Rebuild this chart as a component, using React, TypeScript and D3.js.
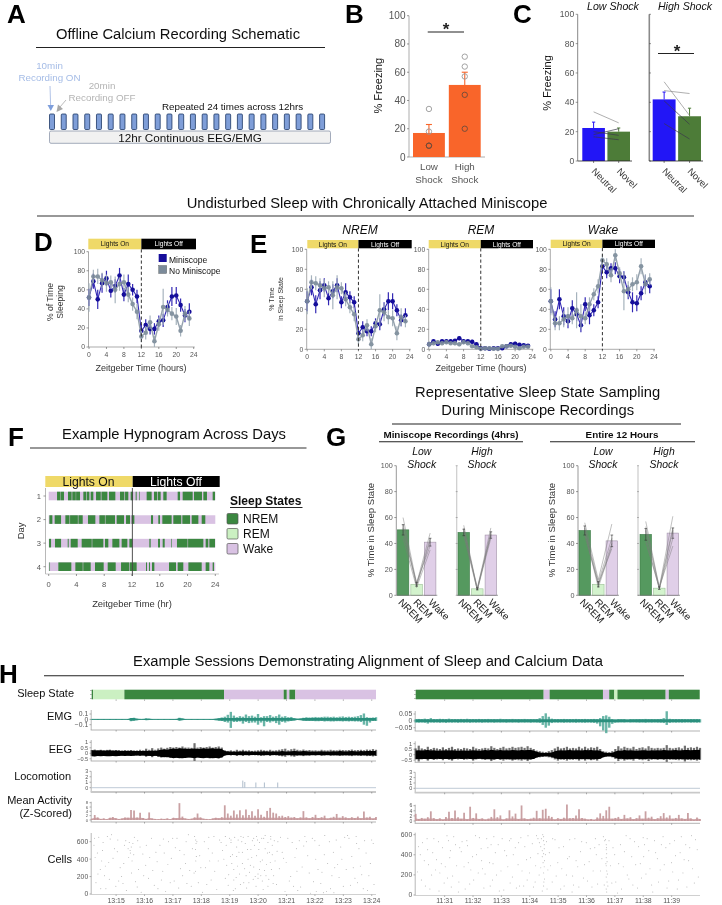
import React from "react";
import * as d3 from "d3";

const FONT = "'Liberation Sans', Arial, sans-serif";

// Panel B
const shockLabels = [["Low", "Shock"], ["High", "Shock"]];
const freezeMeans = [17, 51];
const freezeTops = [23, 60];
const freezeDots = [[34, 18, 8, 8], [71, 64, 57, 44, 20]];

// Panel C
const contextLabels = ["Neutral", "Novel"];
const lowContextMeans = [22.5, 20];
const lowContextTops = [26.5, 22.5];
const highContextMeans = [42, 30.5];
const highContextTops = [47, 36];
const lowPairs = [[33.5, 26], [18, 22], [20, 17.5], [16.5, 14.5]];
const highPairs = [[54, 31], [48, 46], [41, 25], [25.5, 15]];

// Panel D
const sleepMini = [52, 69, 50, 67, 72, 59, 64, 75, 55, 66, 60, 53, 17, 23, 19, 19, 27, 28, 42, 53, 54, 44, 33, 37];
const sleepMiniErr = [9, 8, 10, 10, 8, 7, 7, 8, 7, 10, 6, 7, 7, 6, 6, 6, 6, 7, 7, 10, 9, 7, 7, 9];
const sleepNo = [52, 74, 74, 70, 67, 68, 60, 66, 68, 55, 45, 37, 11, 15, 26, 6, 24, 42, 39, 35, 32, 17, 35, 30];
const sleepNoErr = [15, 7, 8, 8, 9, 7, 14, 7, 8, 8, 7, 8, 6, 7, 7, 6, 7, 19, 7, 7, 9, 6, 8, 8];

// Panel E
const nremMini = [48, 62, 45, 59, 64, 51, 58, 64, 47, 57, 52, 47, 16, 22, 18, 18, 26, 25, 40, 48, 48, 39, 29, 34];
const nremMiniErr = [10, 8, 9, 9, 7, 7, 7, 7, 6, 9, 6, 6, 6, 6, 5, 5, 5, 6, 7, 9, 8, 6, 6, 7];
const nremNo = [48, 67, 66, 64, 61, 62, 54, 62, 61, 50, 42, 35, 10, 14, 24, 5, 23, 39, 37, 32, 31, 16, 32, 28];
const nremNoErr = [13, 7, 7, 7, 9, 6, 14, 12, 6, 7, 6, 7, 5, 6, 6, 6, 6, 16, 9, 7, 8, 7, 9, 6];
const remMini = [5, 8, 5.5, 8, 8, 8, 8.5, 11, 8, 8, 7.5, 5, 1, 1, 0.5, 1, 1, 1, 3, 5, 5.5, 4.5, 4, 3.5];
const remMiniErr = [2, 2, 2, 2, 1.5, 2, 1.5, 2, 2, 1.5, 2, 2, 1, 1, 1, 1, 1, 1, 1.5, 2, 2, 1.5, 1.5, 1.5];
const remNo = [5, 6, 7, 6, 7, 6, 6, 5, 7, 6, 3, 2, 0.5, 1, 1, 0.5, 0.5, 3, 3, 3.5, 2.5, 1, 2.5, 2.5];
const remNoErr = [3, 2, 2, 2, 2, 1.5, 2, 2, 2, 2, 1.5, 1.5, 0.5, 1, 1, 0.5, 0.5, 1.5, 1.5, 1.5, 1.5, 1, 1, 1];
const wakeMini = [48, 30, 50, 33, 28, 41, 35, 24, 45, 34, 39, 47, 83, 77, 81, 81, 73, 72, 57, 47, 46, 56, 67, 63];
const wakeMiniErr = [12, 8, 10, 9, 7, 8, 7, 7, 7, 9, 6, 6, 7, 6, 5, 6, 7, 6, 7, 10, 8, 7, 7, 7];
const wakeNo = [48, 26, 26, 30, 33, 31, 39, 33, 31, 45, 55, 63, 89, 85, 74, 94, 76, 58, 60, 65, 67, 83, 65, 70];
const wakeNoErr = [14, 7, 7, 8, 9, 6, 18, 12, 6, 7, 6, 7, 6, 6, 7, 6, 6, 19, 8, 7, 8, 8, 10, 6];
const zeitTicks = [0, 4, 8, 12, 16, 20, 24];
const pctTicks = [0, 20, 40, 60, 80, 100];

// Panel F: NREM bouts in hours, per day
const hypnoDays = [1, 2, 3, 4];
const hypnoNrem = [
  [[1.2, 1.7], [1.75, 2.2], [2.78, 3.3], [3.4, 3.9], [3.95, 4.51], [4.99, 5.4], [5.48, 5.86], [6.05, 6.43], [6.82, 7.5], [7.6, 8.45], [8.69, 9.6], [10.27, 10.9], [11, 11.47], [11.81, 12.15], [12.53, 12.67], [13.06, 13.15], [14.11, 14.83], [15.17, 15.6], [15.7, 16.13], [16.51, 16.99], [18.58, 18.92], [19.3, 20.74], [20.93, 22.08], [22.28, 22.8], [23.62, 23.96]],
  [[0.1, 0.53], [0.86, 1.78], [2.4, 3], [3.08, 4.2], [4.28, 4.9], [5.66, 6.72], [7.3, 8.1], [8.18, 9.55], [9.79, 10.85], [11.14, 11.71], [11.95, 12.34], [14.74, 15.03], [15.79, 16.03], [16.37, 17.71], [17.95, 19.1], [19.25, 20.36], [20.6, 21.56], [22.04, 22.56]],
  [[0.05, 0.34], [0.91, 1.78], [2.74, 2.88], [3.17, 4.18], [4.75, 6.2], [6.28, 7.87], [8.11, 8.59], [9.17, 10.18], [10.51, 11.33], [11.62, 12.05], [14.5, 14.69], [15.75, 16.03], [16.42, 16.71], [17.67, 17.76], [18.48, 20], [20.08, 22.28], [22.61, 22.99], [23.14, 23.96]],
  [[0.1, 0.19], [1.39, 3.26], [3.84, 4.9], [4.98, 6.05], [6.67, 7.92], [8.5, 9.65], [10.42, 11.6], [11.68, 12.67], [14.02, 14.16], [14.45, 14.59], [14.88, 15.22], [17.33, 18.34], [18.58, 19.39], [20.12, 22.04], [22.61, 23.14], [23.62, 23.81]],
];
const stateNames = ["NREM", "REM", "Wake"];

// Panel G
const gMeans = [[50.5, 8.5, 41], [48.5, 5, 46.5], [50, 8.5, 42], [47, 5.5, 48]];
const gErrs = [[4, 1.5, 3], [2.5, 0.8, 2.5], [3.5, 2, 4.5], [4.5, 1, 4]];
const gPairs = [
  [[60, 9, 48], [55, 8, 44], [52, 7, 42], [48, 10, 38], [44, 6, 35]],
  [[54, 5, 52], [52, 4, 49], [50, 4, 47], [48, 6, 46], [46, 4, 44]],
  [[56, 12, 55], [52, 10, 44], [50, 8, 40], [49, 6, 38], [46, 9, 36]],
  [[57, 6, 61], [53, 6, 52], [50, 5, 50], [44, 5, 44], [41, 6, 38]],
];

// Panel H sleep state segments: state, start minute, end minute
const stateLeft: [number, number, number][] = [[0, 14.14, 14.19], [1, 14.19, 15.29], [0, 15.29, 18.8], [2, 18.8, 20.9], [0, 20.9, 21.01], [2, 21.01, 21.1], [0, 21.1, 21.31], [2, 21.31, 24.15]];
const stateRight: [number, number, number][] = [[0, 29.98, 34.49], [2, 34.49, 34.7], [0, 34.7, 36.58], [2, 36.58, 36.8], [0, 36.8, 36.98], [1, 36.98, 37.09], [0, 37.09, 38.79], [2, 38.79, 38.9], [0, 38.9, 39.99]];
const minutesLeft = [15, 16, 17, 18, 19, 20, 21, 22, 23, 24];
const minutesRight = [31, 32, 33, 34, 35, 36, 37, 38, 39];

const emgLeftUp = [.006, .005, .006, .005, .006, .005, .006, .005, .006, .005, .006, .005, .007, .024, .03, .012, .008, .008, .016, .012, .006, .005, .006, .005, .006, .005, .006, .006, .008, .03, .016, .006, .005, .006, .005, .006, .005, .006, .005, .006, .006, .01, .02, .035, .05, .085, .14, .07, .04, .06, .05, .09, .06, .07, .05, .1, .04, .06, .06, .08, .05, .06, .09, .05, .06, .04, .045, .02, .012, .015, .03, .04, .035, .04, .045, .04, .045, .05, .05, .045, .05, .04, .05, .055, .045, .05, .045, .05, .06, .08, .11, .04, .03, .035, .04];
const emgLeftDown = [.006, .005, .006, .005, .006, .005, .006, .005, .006, .005, .006, .005, .012, .035, .02, .02, .008, .006, .01, .008, .006, .005, .006, .005, .006, .005, .006, .006, .008, .015, .012, .006, .005, .006, .005, .006, .005, .006, .005, .006, .006, .02, .025, .03, .05, .06, .16, .05, .05, .04, .08, .05, .07, .06, .06, .1, .06, .13, .05, .06, .04, .07, .1, .05, .06, .04, .03, .02, .01, .012, .02, .03, .03, .03, .035, .035, .03, .04, .035, .04, .04, .035, .035, .04, .035, .04, .035, .04, .04, .05, .1, .12, .06, .03, .03];
const emgRightUp = [.012, .014, .012, .016, .013, .02, .013, .012, .015, .014, .012, .016, .012, .013, .012, .014, .012, .015, .012, .013, .012, .014, .012, .013, .014, .012, .013, .012, .015, .012, .013, .012, .014, .012, .013, .012, .014, .012, .013, .012, .013, .02, .035, .055, .03, .016, .012, .013, .012, .014, .012, .013, .012, .014, .012, .013, .014, .012, .013, .014, .012, .02, .035, .04, .03, .012, .01, .012, .011, .012, .01, .012, .011, .012, .013, .012, .014, .012, .013, .012, .013, .014, .02, .07, .015, .012, .013, .012, .013, .012, .011, .013, .012, .013, .012];
const emgRightDown = [.012, .013, .012, .014, .02, .012, .013, .012, .014, .012, .015, .012, .013, .012, .014, .012, .013, .012, .014, .012, .013, .012, .014, .012, .013, .012, .014, .012, .013, .012, .014, .012, .013, .012, .014, .012, .013, .012, .014, .012, .013, .015, .03, .05, .035, .016, .012, .013, .012, .014, .012, .013, .012, .014, .012, .013, .014, .012, .013, .015, .02, .04, .07, .09, .05, .022, .014, .012, .011, .012, .01, .012, .011, .012, .013, .012, .014, .012, .013, .012, .013, .014, .016, .03, .015, .012, .013, .012, .013, .012, .011, .013, .012, .013, .012];
const eegLeftCore = [.27, .28, .25, .27, .24, .26, .27, .24, .26, .24, .22, .24, .22, .24, .22, .2, .22, .2, .24, .22, .26, .22, .27, .33, .36, .33, .39, .44, .4, .46, .43, .42, .39, .41, .44, .39, .42, .45, .41, .43, .46, .42, .44, .38, .2, .16, .16, .15, .17, .16, .18, .16, .17, .16, .15, .16, .17, .18, .16, .17, .16, .16, .17, .2, .17, .16, .18, .21, .18, .17, .2, .18, .17, .16, .17, .16, .18, .17, .16, .17, .18, .17, .2, .18, .17, .18, .21, .18, .17, .2, .18, .21, .2, .21, .2];
const eegLeftPeak = [.3, .34, .28, .32, .29, .31, .33, .28, .3, .29, .26, .28, .27, .3, .26, .26, .32, .27, .42, .32, .47, .32, .44, .52, .42, .5, .57, .52, .57, .52, .62, .52, .52, .5, .92, .52, .57, .52, .57, .62, .52, .57, .62, .52, .27, .22, .27, .22, .32, .24, .32, .24, .27, .22, .24, .27, .32, .27, .24, .32, .24, .27, .32, .37, .42, .27, .37, .42, .32, .27, .34, .27, .3, .26, .27, .24, .32, .27, .26, .32, .28, .27, .32, .3, .28, .3, .34, .28, .3, .32, .28, .34, .32, .38, .32];
const eegRightCore = [.38, .41, .39, .4, .42, .38, .41, .37, .39, .38, .4, .39, .41, .38, .37, .39, .38, .36, .39, .41, .38, .37, .39, .42, .38, .44, .41, .38, .42, .39, .41, .38, .43, .41, .39, .42, .4, .43, .42, .38, .26, .19, .16, .15, .17, .2, .32, .38, .41, .38, .4, .42, .38, .4, .41, .38, .42, .4, .43, .38, .41, .36, .23, .16, .15, .18, .28, .38, .36, .42, .38, .41, .38, .36, .38, .4, .41, .36, .4, .38, .41, .38, .42, .4, .38, .41, .42, .38, .41, .43, .42, .41, .43, .42, .44];
const eegRightPeak = [.57, .82, .57, .52, .72, .52, .62, .57, .52, .67, .52, .62, .72, .52, .57, .52, .62, .57, .52, .72, .57, .52, .57, .62, .57, .77, .62, .52, .62, .72, .57, .62, .72, .62, .67, .72, .62, .77, .62, .52, .37, .32, .27, .24, .32, .42, .57, .72, .57, .62, .72, .57, .62, .57, .72, .57, .72, .57, .67, .62, .72, .52, .32, .27, .24, .32, .52, .77, .57, .72, .62, .57, .72, .52, .62, .67, .57, .77, .62, .57, .62, .57, .62, .87, .62, .57, .62, .67, .57, .82, .62, .67, .62, .72, .62];
const activityLeft = [.6, 2.3, 1.2, .5, .7, .4, 1, 1.4, .8, .5, .7, 1.2, 1, 4.6, 4.4, 1.2, 3.3, .9, .5, 3.5, .7, .5, .4, .6, .5, .7, .4, 1, .8, 7.8, 1.6, .7, .5, .6, 1.2, 3, 1.2, .6, .5, .4, .7, 1, .8, 1.3, 6.8, 3, 2, 4.4, 2.6, 4.5, 2.2, 4.8, 2.3, 4.1, 2, 5, 2.4, 1.5, 4.2, 5.6, 3.4, 3, 1.8, 2, 1.4, 1.8, 1.1, 1.4, .8, 1.2, 4.1, 1.2, .8, 1.4, 2.4, .9, 1.3, 2, .7, 1, 1.5, 2.8, 1, 1.8, 1.2, .8, 1.3, .9, 1.6, .8, 3.9, 1.1, 1.5, .7, 1.4];
const activityRight = [2.8, .8, 1.2, .9, 1.5, 3.8, 1.1, .7, 1, .6, 1.6, 3.6, 1.2, 4.1, 1.5, .9, 3.2, .7, 5.6, 1.2, 3, .8, 1, .6, .9, 1.6, 4.6, 1.5, 2.2, .6, 1, 4.2, 1.8, 2.9, .8, 6.1, 1, .7, .9, 1.3, 4, 1.1, 4.4, 4.8, 2, 1.6, .6, 1.1, .8, 1.3, 6.5, 1.1, 1.2, 2.2, 4.6, 1.2, .9, .6, .8, .5, 1.4, 3, 2, 4.2, 5.6, .9, 1.2, 1.6, .8, 2.4, 1, 1.5, .7, 1.1, 2.2, .9, 3.8, 1.3, 1.7, .7, 1.1, 1.9, 3.1, 1.4, 2.2, .9, 1.2, 2.4, 1, .8, 3.1, 1, .6, 1.4, .8];
const locoLeft: [number, number][] = [[19.46, 1.3], [19.53, 1.05], [19.92, .95], [20.22, .95], [20.69, .95]];

// Cell raster: percent of session, cell number
const cellsLeft = [
  [1, 640], [2, 470], [3, 280], [1.5, 130], [4, 590], [5, 60], [6, 360], [4.5, 210], [7, 680], [8, 520], [9, 485], [10, 300], [11, 120], [12, 610], [13, 420], [14, 240], [15, 650], [16, 80], [17, 540], [18, 460], [19, 330], [20, 180], [13.5, 500], [21, 640], [22, 100], [23, 370], [24, 560], [25, 260], [26, 30], [27, 600], [28, 410], [29, 150], [30, 640], [31, 500], [32, 210], [33, 350], [34, 680], [35, 90], [36, 240], [36.5, 260], [37, 600], [28.5, 640], [38, 440], [39, 20], [40, 300], [41, 520], [42, 160], [43, 660], [44, 50],
  [45, 620], [45.5, 590], [46, 500], [46.5, 400], [47, 180], [47, 660], [47.5, 330], [48, 100], [48.5, 640], [49, 620], [49, 590], [49.5, 450], [50, 280], [50, 160], [50.5, 60], [51, 540], [51, 430], [51.5, 620], [52, 230], [52.5, 660], [53, 480], [53, 350], [53.5, 130], [54, 580], [54.5, 70], [55, 400], [55, 660], [55.5, 250], [56, 510], [56.5, 610], [57, 310], [57, 640], [57.5, 200], [58, 660], [58, 440], [58.5, 230], [58.5, 180], [59, 590], [59, 280], [59.5, 210], [60, 150], [60, 390], [60.5, 640], [61, 520], [61, 670], [61.5, 340], [62, 90], [62, 590], [62.5, 480], [63, 660], [63, 630], [63.5, 560], [63.5, 450], [64, 210], [64.5, 380], [65, 110], [65.5, 600], [66, 290], [67, 480], [68, 30],
  [69, 640], [70, 200], [71, 90], [72, 520], [73, 610], [74, 310], [75, 660], [75.5, 600], [76, 440], [77, 10], [78, 140], [79, 30], [80, 560], [81, 250], [82, 670], [83, 350], [84, 60], [85, 480], [86, 620], [87, 190], [88, 400], [89, 650], [90, 670], [91, 100], [92, 300], [93, 660], [94, 520], [95, 220], [96, 610], [97, 40], [98, 350], [99, 580], [67.5, 410], [72.5, 40], [81.5, 15], [78.5, 610], [85.5, 300], [93.5, 130], [6.5, 630], [14.5, 580], [11.5, 560], [2.5, 650], [3.5, 380], [9.5, 150], [16.5, 280], [25.5, 470], [33.5, 120], [41.5, 380],
  [.8, 560], [1.2, 420], [2.2, 230], [3.2, 60], [3.8, 500], [4.8, 320], [5.5, 660], [6.2, 170], [7.5, 410], [8.5, 90], [9.2, 620], [10.5, 200], [11.3, 350], [12.2, 40], [12.8, 520], [13.2, 590], [13.6, 470], [13.9, 540], [14.2, 380], [14.8, 450], [15.4, 140], [16.2, 610], [17.4, 20], [18.3, 210], [19.2, 560], [20.4, 420], [21.5, 270], [22.6, 480], [23.3, 60], [24.5, 160], [25.2, 630], [26.8, 340], [27.6, 130], [29.4, 530], [30.6, 70], [31.2, 290], [32.5, 450], [33.2, 600], [34.5, 270], [35.4, 520], [36.2, 660], [36.6, 620], [36.7, 580], [36.5, 510], [36.8, 430], [36.6, 380], [37.5, 130], [38.4, 300], [39.6, 600], [40.5, 110], [41.2, 650], [42.4, 470], [43.3, 260], [44.5, 380],
  [47.3, 560], [48.2, 220], [48.8, 430], [49.3, 350], [49.8, 40], [50.3, 650], [50.8, 190], [51.3, 320], [51.8, 480], [52.3, 110], [52.8, 600], [53.3, 650], [53.8, 290], [54.3, 210], [54.8, 510], [55.3, 130], [55.8, 330], [56.3, 420], [56.8, 170], [57.3, 560], [57.8, 90], [58.3, 620], [58.8, 510], [59.3, 370], [59.8, 640], [60.3, 50], [60.8, 270], [61.3, 210], [61.8, 470], [62.3, 170], [62.8, 360], [63.2, 280], [63.8, 120], [64.2, 610], [65.2, 490], [66.4, 650], [68.4, 360], [69.5, 150], [70.5, 590], [71.5, 420], [72.2, 260], [73.5, 80], [74.6, 550], [76.5, 240], [77.6, 640], [78.8, 400], [79.6, 280], [80.6, 120], [81.8, 450], [82.6, 30], [83.6, 600], [84.5, 210], [85.2, 15], [86.5, 340], [87.6, 540], [88.5, 90], [89.5, 280], [90.5, 640], [91.5, 430], [92.6, 180], [93.2, 580], [94.5, 320], [95.5, 60], [96.5, 470], [97.5, 210], [98.5, 620], [99.3, 110],
];
const cellsRight = [
  [1, 480], [2, 150], [3, 340], [4, 560], [5, 60], [6, 420], [7, 250], [8, 530], [9, 310], [10, 120], [11, 590], [11.5, 540], [12, 370], [13, 190], [14, 500], [15, 30], [16, 430], [17, 280], [18, 540], [19, 110], [20, 380], [21, 590], [22, 220], [23, 460], [24, 70], [25, 560], [26, 320], [27, 150], [27.5, 580], [28, 420], [29, 500], [30, 240], [31, 50], [32, 390], [33, 540], [34, 180], [35, 470], [36, 300], [37, 570], [38, 90], [39, 350], [40, 220], [41, 510], [42, 130], [43, 410], [44, 270], [44.5, 40],
  [42.5, 590], [43, 560], [43.5, 520], [44, 480], [44.5, 440], [44.5, 380], [44.7, 600], [45, 580], [45, 540], [45.2, 500], [45.2, 460], [45, 410], [45.3, 340], [45.2, 280], [45, 220], [45.3, 160], [45, 90], [46, 530], [46.5, 250], [47, 420], [48, 130], [49, 550], [50, 320], [51, 60], [52, 480], [53, 200], [54, 380], [55, 30], [55.5, 100], [56, 560], [57, 280], [58, 430], [59, 170], [60, 520], [61, 330], [62, 80], [63, 470],
  [66, 580], [66.5, 540], [67, 500], [67, 450], [67.2, 410], [67, 370], [67.3, 330], [67, 290], [67.2, 240], [67, 180], [67.3, 130], [67, 60], [67.2, 30], [65, 240], [68, 540], [69, 120], [70, 400], [71, 20], [72, 500], [73, 280], [74, 590], [75, 160], [76, 380], [77, 530], [78, 70], [79, 310], [80, 570], [80.5, 500], [81, 210], [82, 440], [83, 100], [84, 540], [85, 360], [86, 250], [87, 580], [88, 470], [89, 140], [90, 320], [91, 540], [92, 60], [93, 420], [94, 220], [95, 500], [96, 340], [97, 590], [98, 120], [99, 450], [63.5, 400], [64, 110], [12.5, 80], [18.5, 320], [23.5, 260], [33.5, 560], [36.5, 90], [8.5, 220], [4.5, 300], [15.5, 470], [26.5, 500], [39.5, 590],
  [.6, 230], [1.6, 400], [2.4, 520], [3.4, 90], [4.2, 450], [5.6, 200], [6.4, 560], [7.3, 350], [8.2, 40], [9.4, 470], [10.4, 280], [11.2, 170], [12.2, 440], [13.4, 580], [14.4, 290], [15.2, 130], [16.3, 530], [17.4, 60], [18.2, 490], [19.4, 250], [20.4, 150], [21.4, 400], [22.4, 570], [23.2, 340], [24.4, 210], [25.4, 470], [26.2, 90], [27.2, 310], [28.4, 200], [29.4, 40], [30.4, 560], [31.3, 440], [32.4, 280], [33.2, 120], [34.3, 400], [35.4, 70], [36.2, 520], [37.4, 240], [38.4, 480], [39.2, 150], [40.4, 370], [41.4, 80], [42.2, 290], [43.4, 200], [44.2, 560], [44.8, 320], [45.6, 400], [45.1, 130], [46.2, 60], [47.4, 290], [48.2, 560], [49.4, 190], [50.4, 470], [51.4, 260], [52.2, 90], [53.4, 360], [54.2, 550], [55.2, 190], [56.4, 340], [57.4, 80], [58.4, 530], [59.4, 300], [60.4, 140], [61.4, 460], [62.4, 240], [63.2, 560], [64.5, 500], [65.5, 360], [66.3, 100], [66.8, 550], [67.1, 470], [67.4, 210], [66.9, 310], [67.6, 90], [68.5, 290], [69.4, 470], [70.4, 130], [71.4, 310], [72.4, 60], [73.4, 430], [74.4, 200], [75.4, 560], [76.4, 100], [77.4, 300], [78.4, 480], [79.4, 170], [80.2, 380], [81.4, 560], [82.4, 260], [83.4, 30], [84.4, 420], [85.4, 130], [86.4, 500], [87.4, 300], [88.4, 70], [89.4, 510], [90.4, 230], [91.4, 390], [92.4, 150], [93.4, 580], [94.4, 350], [95.4, 80], [96.4, 470], [97.4, 260], [98.4, 550], [99.4, 180],
];

const BLUE = "#12109a", GREY = "#7b8b9a", TICK = "#555", GR = "#a9a9a9";
const NREM = "#3b873f", REM = "#cbf0c2", WAKE = "#d9c2e3";
const stateColors = [NREM, REM, WAKE];
const LETTER = 26;

const T = ({ x, y, s, a = "middle", w, c = "#111", i, rot, ls, children }: any) => (
  <text x={x} y={y} fontSize={s} textAnchor={a} fontWeight={w} fill={c} fontStyle={i ? "italic" : undefined} letterSpacing={ls}
    transform={rot !== undefined ? `rotate(${rot} ${x} ${y})` : undefined}>{children}</text>
);
const Rule = ({ x1, x2, y, c = "#222", w = 1.1 }: any) => <line x1={x1} x2={x2} y1={y} y2={y} stroke={c} strokeWidth={w} />;

const YAxis = ({ x, scale, ticks, s = 10, c = GR, w = 1, tl = 2.5, lab = (d: number) => String(d), top, bot }: any) => (
  <g>
    <line x1={x} x2={x} y1={top ?? scale(d3.max(ticks) as number)} y2={bot ?? scale(d3.min(ticks) as number)} stroke={c} strokeWidth={w} />
    {ticks.map((t: number) => (
      <g key={t}>
        <line x1={x - tl} x2={x} y1={scale(t)} y2={scale(t)} stroke="#555" strokeWidth={0.6} />
        <T x={x - tl - 1.5} y={scale(t) + s * 0.35} s={s} a="end" c={TICK}>{lab(t)}</T>
      </g>
    ))}
  </g>
);

const Lights = ({ x0, x1, x2, y, h, s }: any) => (
  <g>
    <rect x={x0} y={y} width={x1 - x0} height={h} fill="#efd968" />
    <rect x={x1} y={y} width={x2 - x1} height={h} fill="#000" />
    <T x={(x0 + x1) / 2} y={y + h * 0.5 + s * 0.36} s={s}>Lights On</T>
    <T x={(x1 + x2) / 2} y={y + h * 0.5 + s * 0.36} s={s} c="#fff">Lights Off</T>
  </g>
);

const Circadian = ({ ax, x24, top, bot, series, barY, barH, barX0, barX2 }: any) => {
  const sx = d3.scaleLinear().domain([0, 24]).range([ax + 0.5, x24]);
  const sy = d3.scaleLinear().domain([0, 100]).range([bot, top]);
  const path = d3.line<number>().x((_, i) => sx(i)).y((d) => sy(d));
  const m12 = sx(12);
  return (
    <g>
      <Lights x0={barX0} x1={m12} x2={barX2} y={barY} h={barH} s={6.6} />
      <YAxis x={ax} scale={sy} ticks={pctTicks} s={6.8} tl={2} c="#aaa" />
      <line x1={ax} x2={x24 + 1} y1={bot} y2={bot} stroke="#888" strokeWidth={0.7} />
      {zeitTicks.map((t) => (
        <g key={t}>
          <line x1={sx(t)} x2={sx(t)} y1={bot} y2={bot + 2} stroke="#555" strokeWidth={0.6} />
          <T x={sx(t)} y={bot + 9.5} s={6.8} c={TICK}>{t}</T>
        </g>
      ))}
      {series.map((ser: any, si: number) => (
        <g key={si} opacity={si ? 0.92 : 1}>
          {ser.v.map((d: number, i: number) => (
            <line key={i} x1={sx(i)} x2={sx(i)} y1={sy(Math.max(0, d - ser.e[i]))} y2={sy(Math.min(100, d + ser.e[i]))} stroke={si ? "#9fadb8" : "#3328b4"} strokeWidth={1.2} />
          ))}
          <path d={path(ser.v) as string} fill="none" stroke={si ? "#8c9aa6" : "#3328b4"} strokeWidth={si ? 1.4 : 1.1} />
          {ser.v.map((d: number, i: number) => (
            <circle key={i} cx={sx(i)} cy={sy(d)} r={2.3} fill={si ? GREY : BLUE} />
          ))}
        </g>
      ))}
      <line x1={m12} x2={m12} y1={barY + barH} y2={bot + 1} stroke="#333" strokeWidth={1} strokeDasharray="3.2 2.4" />
    </g>
  );
};

const Schematic = () => {
  const pulses = d3.range(24);
  const px = d3.scaleLinear().domain([0, 23]).range([49.5, 319.6]);
  return (
    <g>
      <T x={7} y={23} s={LETTER} a="start" w="bold" c="#000">A</T>
      <T x={178} y={39} s={14.75}>Offline Calcium Recording Schematic</T>
      <Rule x1={36} x2={325} y={47.5} />
      <T x={49.5} y={68.5} s={9.8} c="#a5bce6">10min</T>
      <T x={49.5} y={80.5} s={9.8} c="#a5bce6">Recording ON</T>
      <line x1={50} x2={50.6} y1={86} y2={105} stroke="#8fa9dc" strokeWidth={0.7} />
      <path d="M47.5 105 L54 105 L50.8 111 Z" fill="#7f9fdc" />
      <T x={102} y={89} s={9.8} c="#b4b4b4">20min</T>
      <T x={102} y={100.5} s={9.8} c="#b4b4b4">Recording OFF</T>
      <line x1={66} x2={60} y1={100} y2={107} stroke="#aaa" strokeWidth={0.8} />
      <path d="M56.5 112 L58 104.5 L63 109 Z" fill="#a8a8a8" />
      <T x={162} y={109.5} s={9.8} a="start">Repeated 24 times across 12hrs</T>
      {pulses.map((i) => (
        <rect key={i} x={px(i)} y={114} width={5} height={15.5} rx={1} fill="#7f9ed8" stroke="#1d3766" strokeWidth={0.8} />
      ))}
      <rect x={49.5} y={131} width={281} height={12.3} rx={1.5} fill="#f1f1f1" stroke="#8d97ab" strokeWidth={0.8} />
      <T x={190} y={142} s={11.7}>12hr Continuous EEG/EMG</T>
    </g>
  );
};

const PanelB = () => {
  const sy = d3.scaleLinear().domain([0, 100]).range([157, 15.7]);
  const sx = d3.scaleBand<number>().domain([0, 1]).range([413, 480.7]).paddingInner(0.11);
  return (
    <g>
      <T x={345} y={23} s={LETTER} a="start" w="bold" c="#000">B</T>
      <YAxis x={409} scale={sy} ticks={pctTicks} s={10} c="#bbb" w={1.2} tl={2} />
      <line x1={409} x2={485} y1={157} y2={157} stroke="#999" strokeWidth={0.8} />
      <T x={382} y={85.7} s={11} rot={-90}>% Freezing</T>
      {freezeMeans.map((v, i) => {
        const cx = (sx(i) as number) + sx.bandwidth() / 2;
        return (
          <g key={i}>
            <rect x={sx(i)} y={sy(v)} width={sx.bandwidth()} height={157 - sy(v)} fill="#f9652a" />
            <line x1={cx} x2={cx} y1={sy(v)} y2={sy(freezeTops[i])} stroke="#f9652a" strokeWidth={1.1} />
            <line x1={cx - 3} x2={cx + 3} y1={sy(freezeTops[i])} y2={sy(freezeTops[i])} stroke="#f9652a" strokeWidth={1.1} />
            {freezeDots[i].map((d, j) => (
              <circle key={j} cx={cx} cy={sy(d)} r={2.7} fill="none" stroke={d < v ? "#6b4a3a" : "#999"} strokeWidth={1} opacity={0.9} />
            ))}
            <T x={cx} y={170} s={9.8} c={TICK}>{shockLabels[i][0]}</T>
            <T x={cx} y={182.7} s={9.8} c={TICK}>{shockLabels[i][1]}</T>
          </g>
        );
      })}
      <Rule x1={427.7} x2={464} y={32} w={1.2} />
      <T x={446} y={35} s={17} w="bold" c="#222">*</T>
    </g>
  );
};

const PanelC = () => {
  const sy = d3.scaleLinear().domain([0, 100]).range([161, 14.3]);
  const groups = [
    { ax: 577.7, x0: 582.3, x1: 630, m: lowContextMeans, t: lowContextTops, p: lowPairs, title: "Low Shock", tx: 613 },
    { ax: 649.3, x0: 652.7, x1: 701, m: highContextMeans, t: highContextTops, p: highPairs, title: "High Shock", tx: 685 },
  ];
  return (
    <g>
      <T x={513} y={23} s={LETTER} a="start" w="bold" c="#000">C</T>
      <T x={551} y={83} s={11} rot={-90}>% Freezing</T>
      {groups.map((g, gi) => {
        const sx = d3.scaleBand<string>().domain(contextLabels).range([g.x0, g.x1]).paddingInner(0.1);
        const cx = (l: string) => (sx(l) as number) + sx.bandwidth() / 2;
        return (
          <g key={gi}>
            <T x={g.tx} y={9.5} s={10.6} i>{g.title}</T>
            {gi === 0 ? (
              <YAxis x={g.ax} scale={sy} ticks={pctTicks} s={8.6} c="#888" tl={2} />
            ) : (
              <g>
                <line x1={g.ax} x2={g.ax} y1={14.3} y2={161} stroke="#8a8a8a" strokeWidth={1.6} />
                {pctTicks.map((t) => <line key={t} x1={g.ax} x2={g.ax + 1.5} y1={sy(t)} y2={sy(t)} stroke="#444" strokeWidth={0.7} />)}
              </g>
            )}
            {contextLabels.map((l, i) => (
              <g key={l}>
                <rect x={sx(l)} y={sy(g.m[i])} width={sx.bandwidth()} height={161 - sy(g.m[i])} fill={i ? "#4e7b38" : "#2313f6"} />
                <line x1={cx(l)} x2={cx(l)} y1={sy(g.m[i])} y2={sy(g.t[i])} stroke={i ? "#4e7b38" : "#2313f6"} strokeWidth={1} />
                <line x1={cx(l) - 1.6} x2={cx(l) + 1.6} y1={sy(g.t[i])} y2={sy(g.t[i])} stroke={i ? "#4e7b38" : "#2313f6"} strokeWidth={1} />
                <line x1={cx(l)} x2={cx(l)} y1={161} y2={163} stroke="#333" strokeWidth={0.6} />
                <T x={cx(l) - 2.5} y={172} s={9.4} a="start" c="#333" rot={45}>{l}</T>
              </g>
            ))}
            <line x1={g.ax} x2={g.x1 + 2} y1={161} y2={161} stroke="#222" strokeWidth={0.8} />
            {g.p.map((p, j) => (
              <line key={j} x1={cx(contextLabels[0])} x2={cx(contextLabels[1])} y1={sy(p[0])} y2={sy(p[1])} stroke={p[0] > 30 && p[0] !== 41 ? "#8c8c8c" : "#3a3a4a"} strokeWidth={0.7} />
            ))}
          </g>
        );
      })}
      <Rule x1={658} x2={694} y={53.5} w={1.2} />
      <T x={677} y={56.5} s={17} w="bold" c="#222">*</T>
    </g>
  );
};

const PanelF = () => {
  const sx = d3.scaleLinear().domain([0, 24]).range([48.7, 215.3]);
  const sy = d3.scalePoint<number>().domain(hypnoDays).range([496, 566.7]);
  const rowH = 8.6;
  return (
    <g>
      <T x={8} y={446} s={LETTER} a="start" w="bold" c="#000">F</T>
      <T x={174} y={439} s={14.75}>Example Hypnogram Across Days</T>
      <Rule x1={30} x2={306.5} y={448} c="#333" />
      <rect x={45.3} y={476} width={87.4} height={11} fill="#efd968" />
      <rect x={132.7} y={476} width={87} height={11} fill="#000" />
      <T x={88.5} y={486} s={12.2}>Lights On</T>
      <T x={176} y={486} s={12.2} c="#fff">Lights Off</T>
      <line x1={45.5} x2={45.5} y1={488} y2={574} stroke="#999" strokeWidth={0.7} />
      <line x1={45.5} x2={219} y1={574} y2={574} stroke="#bbb" strokeWidth={0.8} />
      {hypnoDays.map((d, i) => (
        <g key={d}>
          <rect x={sx(0)} y={(sy(d) as number) - rowH / 2} width={sx(24) - sx(0)} height={rowH} fill={WAKE} />
          {hypnoNrem[i].map(([a, b], j) => (
            <rect key={j} x={sx(a)} y={(sy(d) as number) - rowH / 2} width={sx(b) - sx(a)} height={rowH} fill={NREM} />
          ))}
          <line x1={43.5} x2={45.5} y1={sy(d)} y2={sy(d)} stroke="#555" strokeWidth={0.6} />
          <T x={41} y={(sy(d) as number) + 2.8} s={7.6} a="end" c={TICK}>{d}</T>
        </g>
      ))}
      <line x1={132.4} x2={132.4} y1={488} y2={576} stroke="#444" strokeWidth={1.1} opacity={0.85} />
      {zeitTicks.map((t) => (
        <g key={t}>
          <line x1={sx(t)} x2={sx(t)} y1={574} y2={576} stroke="#555" strokeWidth={0.6} />
          <T x={sx(t)} y={587} s={7.6} c={TICK}>{t}</T>
        </g>
      ))}
      <T x={132} y={606.5} s={9.4} c="#333">Zeitgeber Time (hr)</T>
      <T x={24} y={531} s={9.4} rot={-90} c="#333">Day</T>
      <T x={230} y={505} s={12} a="start" w="bold" c="#111">Sleep States</T>
      <line x1={230} x2={302.5} y1={507.5} y2={507.5} stroke="#111" strokeWidth={0.9} />
      {stateNames.map((n, i) => (
        <g key={n}>
          <rect x={227} y={513.5 + i * 15} width={11} height={10.5} rx={1.2} fill={stateColors[i]} stroke="#555" strokeWidth={0.7} />
          <T x={243} y={523 + i * 15} s={12} a="start">{n}</T>
        </g>
      ))}
    </g>
  );
};

const PanelG = () => {
  const sy = d3.scaleLinear().domain([0, 100]).range([595.3, 465.7]);
  const cols = [
    { ax: 396.3, x0: 397.3, title: "Low", tx: 421.7, first: true, lab: 397.7 },
    { ax: 456.7, x0: 458, title: "High", tx: 482, first: false, lab: 457.7 },
    { ax: 578, x0: 579, title: "Low", tx: 603, first: true, lab: 579.3 },
    { ax: 638, x0: 640, title: "High", tx: 664, first: false, lab: 639.3 },
  ];
  const fills = [["#55995f", "#3c7a48"], ["#d3f3cd", "#9cbf97"], ["#e0cfe8", "#a293a9"]];
  return (
    <g>
      <T x={326} y={446} s={LETTER} a="start" w="bold" c="#000">G</T>
      <T x={537.7} y={397} s={14.75}>Representative Sleep State Sampling</T>
      <T x={537.7} y={415} s={14.75}>During Miniscope Recordings</T>
      <Rule x1={392} x2={681} y={424} />
      <T x={451} y={438} s={9.85} w="bold">Miniscope Recordings (4hrs)</T>
      <Rule x1={379} x2={523} y={441.7} />
      <T x={622} y={438} s={9.85} w="bold">Entire 12 Hours</T>
      <Rule x1={550} x2={695} y={441.7} />
      <T x={373.5} y={530} s={9.6} rot={-90} c="#333">% Time in Sleep State</T>
      <T x={555} y={530} s={9.6} rot={-90} c="#333">% Time in Sleep State</T>
      {cols.map((c, ci) => {
        const sx = d3.scaleBand<string>().domain(stateNames).range([c.x0, c.x0 + 38.6]).paddingInner(0.15);
        const cx = (n: string) => (sx(n) as number) + sx.bandwidth() / 2;
        const line = d3.line<number>().x((_, i) => cx(stateNames[i])).y((d) => sy(d));
        return (
          <g key={ci}>
            <T x={c.tx} y={454.7} s={10.4} i>{c.title}</T>
            <T x={c.tx} y={468} s={10.4} i>Shock</T>
            {c.first ? (
              <YAxis x={c.ax} scale={sy} ticks={pctTicks} s={7.2} c="#999" tl={2} />
            ) : (
              <g>
                <line x1={c.ax} x2={c.ax} y1={465.7} y2={595.3} stroke="#ccc" strokeWidth={1.2} />
                {pctTicks.map((t) => <line key={t} x1={c.ax - 1} x2={c.ax + 1} y1={sy(t)} y2={sy(t)} stroke="#777" strokeWidth={0.5} />)}
              </g>
            )}
            {stateNames.map((n, i) => (
              <rect key={n} x={sx(n)} y={sy(gMeans[ci][i])} width={sx.bandwidth()} height={595.3 - sy(gMeans[ci][i])} fill={fills[i][0]} stroke={fills[i][1]} strokeWidth={0.6} />
            ))}
            <line x1={c.ax} x2={c.x0 + 40} y1={595.3} y2={595.3} stroke="#777" strokeWidth={0.7} />
            {gPairs[ci].map((p, j) => (
              <path key={j} d={line(p) as string} fill="none" stroke="#7a7a7a" strokeWidth={0.6} opacity={0.8} />
            ))}
            {stateNames.map((n, i) => {
              const up = sy(gMeans[ci][i] + gErrs[ci][i]), dn = sy(gMeans[ci][i] - gErrs[ci][i]);
              return (
                <g key={n} stroke="#333" strokeWidth={0.6}>
                  <line x1={cx(n)} x2={cx(n)} y1={up} y2={dn} />
                  <line x1={cx(n) - 1.3} x2={cx(n) + 1.3} y1={up} y2={up} />
                  <line x1={cx(n) - 1.3} x2={cx(n) + 1.3} y1={dn} y2={dn} />
                </g>
              );
            })}
            {stateNames.map((n, i) => (
              <T key={n} x={c.lab + i * 15} y={603} s={10} a="start" rot={45} c="#222">{n}</T>
            ))}
          </g>
        );
      })}
    </g>
  );
};

const Session = ({ x0, x1, domain, minutes, hh, state, emgUp, emgDown, emgY, emgTicks, eegCore, eegPeak, eegY, actv, actY, actTicks, actSize, locoY, loco, cellsY, cellTicks, cells, bottoms, cellTop, emgFmt, coreCap }: any) => {
  const t = d3.scaleLinear().domain(domain).range([x0, x1]);
  const pct = d3.scaleLinear().domain([0, 100]).range([x0, x1]);
  const bin = d3.scaleLinear().domain([0, emgUp.length - 1]).range([x0, x1]);
  const sEmg = d3.scaleLinear().domain(emgY.d).range(emgY.r);
  const sEeg = d3.scaleLinear().domain([0, 1]).range(eegY);
  const sAct = d3.scaleLinear().domain(actY.d).range(actY.r);
  const sLoc = d3.scaleLinear().domain([0, 3]).range(locoY);
  const sCell = d3.scaleLinear().domain(cellsY.d).range(cellsY.r);
  const emgCore = d3.area<number>().x((_, i) => bin(i)).y0((d) => sEmg(-Math.min(d, coreCap))).y1((d) => sEmg(Math.min(d, coreCap)));
  const coreArea = d3.area<number>().x((_, i) => bin(i)).y0((d) => sEeg(-d)).y1((d) => sEeg(d));
  const actBase = d3.area<number>().x((_, i) => bin(i)).y0(sAct(0)).y1((d) => sAct(Math.min(d, 1)));
  const ax = (y: number, w = 0.9, c = "#aaa") => (
    <g>
      <line x1={x0 - 1} x2={x1} y1={y} y2={y} stroke={c} strokeWidth={w} />
      {minutes.map((m: number) => <line key={m} x1={t(m)} x2={t(m)} y1={y} y2={y + 1.6} stroke="#666" strokeWidth={0.5} />)}
    </g>
  );
  const vAx = (top: number, bot: number) => <line x1={x0 - 0.5} x2={x0 - 0.5} y1={top} y2={bot} stroke="#999" strokeWidth={0.7} />;
  const tk = (y: number, txt: string, k: number, s = 6.8) => (
    <g key={k}>
      <line x1={x0 - 2.2} x2={x0 - 0.5} y1={y} y2={y} stroke="#666" strokeWidth={0.5} />
      <T x={x0 - 3.5} y={y + s * 0.35} s={s} a="end" c={TICK}>{txt}</T>
    </g>
  );
  return (
    <g>
      {state.map(([s, a, b]: number[], i: number) => (
        <rect key={i} x={t(a)} y={689.7} width={t(b) - t(a)} height={9.6} fill={stateColors[s]} />
      ))}
      {[690.5, 694.5, 698.5].map((y) => <line key={y} x1={x0 - 1.5} x2={x0} y1={y} y2={y} stroke="#555" strokeWidth={0.5} />)}
      {minutes.map((m: number) => <line key={m} x1={t(m)} x2={t(m)} y1={699.3} y2={701} stroke="#777" strokeWidth={0.5} />)}

      {vAx(bottoms.emg - 20, bottoms.emg)}{ax(bottoms.emg)}
      {emgTicks.map((v: number, i: number) => tk(sEmg(v), emgFmt(v), i))}
      {emgUp.map((d: number, i: number) => (
        <line key={i} x1={bin(i)} x2={bin(i)} y1={sEmg(d)} y2={sEmg(-emgDown[i])} stroke="#4fa998" strokeWidth={2.4} opacity={0.85} />
      ))}
      <line x1={x0} x2={x1} y1={sEmg(0)} y2={sEmg(0)} stroke="#2b8f7d" strokeWidth={0.8} />
      <path d={emgCore(emgUp) as string} fill="#2b8f7d" />

      {vAx(bottoms.eeg - 21, bottoms.eeg)}{ax(bottoms.eeg)}
      {[1, 0.5, 0, -0.5].map((v, i) => tk(sEeg(v), v === -0.5 ? "\u22120.5" : String(v), i, 5.6))}
      {eegPeak.map((d: number, i: number) => (
        <line key={i} x1={bin(i)} x2={bin(i)} y1={sEeg(d)} y2={sEeg(-d * 0.75)} stroke="#333" strokeWidth={2.2} opacity={0.7} />
      ))}
      <path d={coreArea(eegCore) as string} fill="#000" />

      {vAx(locoY[1], bottoms.loco)}{ax(bottoms.loco, 1.8, "#c9c9c9")}
      {[3, 2, 1, 0].map((v, i) => tk(sLoc(v), String(v), i, 5.4))}
      <line x1={x0} x2={x1} y1={sLoc(0)} y2={sLoc(0)} stroke="#aebccb" strokeWidth={0.8} />
      {loco.map(([m, h]: number[], i: number) => (
        <line key={i} x1={t(m)} x2={t(m)} y1={sLoc(0)} y2={sLoc(h)} stroke="#aebccb" strokeWidth={1} />
      ))}

      {vAx(actY.r[1] - 1, bottoms.act)}{ax(bottoms.act)}
      {actTicks.map((v: number, i: number) => tk(sAct(v), String(v), i, actSize))}
      <path d={actBase(actv) as string} fill="#cfa5a8" />
      {actv.map((d: number, i: number) => (
        <line key={i} x1={bin(i)} x2={bin(i)} y1={sAct(0)} y2={sAct(d)} stroke="#c4979a" strokeWidth={1.8} opacity={0.9} />
      ))}

      {vAx(cellTop, sCell(0))}
      <line x1={x0 - 1} x2={x1} y1={sCell(0) + 0.5} y2={sCell(0) + 0.5} stroke="#bbb" strokeWidth={0.7} />
      {cellTicks.map((v: number, i: number) => tk(sCell(v), String(v), i))}
      {cells.map(([p, c]: number[], i: number) => (
        <circle key={i} cx={pct(p)} cy={sCell(c)} r={0.48} fill="#555" opacity={0.65} />
      ))}
      {minutes.map((m: number) => (
        <g key={m}>
          <line x1={t(m)} x2={t(m)} y1={sCell(0) + 0.5} y2={sCell(0) + 2} stroke="#666" strokeWidth={0.5} />
          <T x={t(m)} y={902.7} s={6.9} c={TICK}>{`${hh}:${m}`}</T>
        </g>
      ))}
    </g>
  );
};

const PanelH = () => (
  <g>
    <T x={-1} y={683} s={LETTER} a="start" w="bold" c="#000">H</T>
    <T x={368} y={666} s={14.75}>Example Sessions Demonstrating Alignment of Sleep and Calcium Data</T>
    <Rule x1={44} x2={684} y={675.7} />
    <T x={74} y={697} s={11} a="end">Sleep State</T>
    <T x={72} y={720} s={11} a="end">EMG</T>
    <T x={72} y={753} s={11} a="end">EEG</T>
    <T x={71} y={780} s={11} a="end">Locomotion</T>
    <T x={72} y={804} s={11} a="end">Mean Activity</T>
    <T x={72} y={817} s={11} a="end">(Z-Scored)</T>
    <T x={72} y={863} s={11} a="end">Cells</T>
    <Session x0={91.7} x1={376} domain={[14.14, 24.15]} minutes={minutesLeft} hh={13} state={stateLeft}
      emgUp={emgLeftUp} emgDown={emgLeftDown} emgY={{ d: [-0.1, 0.1], r: [724.7, 714] }} emgTicks={[0.1, 0, -0.1]} coreCap={0.025} emgFmt={(v: number) => (v < 0 ? "\u22120.1" : String(v))}
      eegCore={eegLeftCore} eegPeak={eegLeftPeak} eegY={[753.3, 742.3]} actv={activityLeft} actY={{ d: [0, 8], r: [820, 802.7] }} actTicks={[0, 2, 4, 6, 8]} actSize={4.3}
      locoY={[787.7, 771.3]} loco={locoLeft} cellsY={{ d: [0, 600], r: [894, 841.7] }} cellTicks={[0, 200, 400, 600]} cells={cellsLeft} cellTop={833}
      bottoms={{ emg: 730, eeg: 761, loco: 792, act: 822 }} />
    <Session x0={415.7} x1={700} domain={[29.98, 40]} minutes={minutesRight} hh={11} state={stateRight}
      emgUp={emgRightUp} emgDown={emgRightDown} emgY={{ d: [-0.05, 0.05], r: [727.7, 714] }} emgTicks={[0.05, 0, -0.05]} coreCap={0.011} emgFmt={(v: number) => (v < 0 ? "\u22120.05" : String(v))}
      eegCore={eegRightCore} eegPeak={eegRightPeak} eegY={[754.7, 743.7]} actv={activityRight} actY={{ d: [0, 6], r: [821, 805.7] }} actTicks={[0, 2, 4, 6]} actSize={5}
      locoY={[788.3, 772.3]} loco={[]} cellsY={{ d: [0, 600], r: [895, 834.7] }} cellTicks={[0, 200, 400, 600]} cells={cellsRight} cellTop={832.7}
      bottoms={{ emg: 731, eeg: 762.3, loco: 792.7, act: 823.3 }} />
  </g>
);

export default function App() {
  return (
    <svg width={722} height={905} viewBox="0 0 722 905" style={{ position: "absolute", left: 0, top: 0, background: "#fff" }} fontFamily={FONT}>
      <defs>
        <filter id="soft" x="0" y="0" width="100%" height="100%"><feGaussianBlur stdDeviation="0.3" /></filter>
      </defs>
      <g filter="url(#soft)">
        <Schematic />
        <PanelB />
        <PanelC />
        <T x={367} y={208} s={14.75}>Undisturbed Sleep with Chronically Attached Miniscope</T>
        <Rule x1={37} x2={694} y={216} c="#333" />
        <T x={34} y={251} s={LETTER} a="start" w="bold" c="#000">D</T>
        <Circadian ax={88.5} x24={193.7} top={251.7} bot={347} barY={238.7} barH={10.6} barX0={88.3} barX2={196}
          series={[{ v: sleepMini, e: sleepMiniErr }, { v: sleepNo, e: sleepNoErr }]} />
        <rect x={158.7} y={254} width={8} height={8} fill={BLUE} />
        <T x={169} y={262.5} s={8.5} a="start">Miniscope</T>
        <rect x={158.7} y={265.5} width={8} height={8} fill={GREY} stroke="#555" strokeWidth={0.4} />
        <T x={169} y={273.5} s={8.5} a="start">No Miniscope</T>
        <T x={53} y={302} s={8.6} rot={-90} c="#333">% of Time</T>
        <T x={63} y={302} s={8.6} rot={-90} c="#333">Sleeping</T>
        <T x={141} y={371} s={9} c="#333">Zeitgeber Time (hours)</T>

        <T x={250} y={253} s={LETTER} a="start" w="bold" c="#000">E</T>
        <T x={360} y={234} s={12} i>NREM</T>
        <T x={481} y={234} s={12} i>REM</T>
        <T x={603} y={234} s={12} i>Wake</T>
        <Circadian ax={306.7} x24={409.7} top={249.3} bot={349.3} barY={240} barH={8.3} barX0={307.3} barX2={411.7}
          series={[{ v: nremMini, e: nremMiniErr }, { v: nremNo, e: nremNoErr }]} />
        <Circadian ax={428.7} x24={532.3} top={249.3} bot={349.3} barY={240} barH={8.3} barX0={428.7} barX2={533}
          series={[{ v: remMini, e: remMiniErr }, { v: remNo, e: remNoErr }]} />
        <Circadian ax={550.3} x24={654} top={249.3} bot={349.3} barY={239.7} barH={8.3} barX0={550.7} barX2={655}
          series={[{ v: wakeMini, e: wakeMiniErr }, { v: wakeNo, e: wakeNoErr }]} />
        <T x={274} y={299} s={7} rot={-90} c="#333">% Time</T>
        <T x={283} y={299} s={7} rot={-90} c="#333">in Sleep State</T>
        <T x={481} y={371} s={9} c="#333">Zeitgeber Time (hours)</T>

        <PanelF />
        <PanelG />
        <PanelH />
      </g>
    </svg>
  );
}
